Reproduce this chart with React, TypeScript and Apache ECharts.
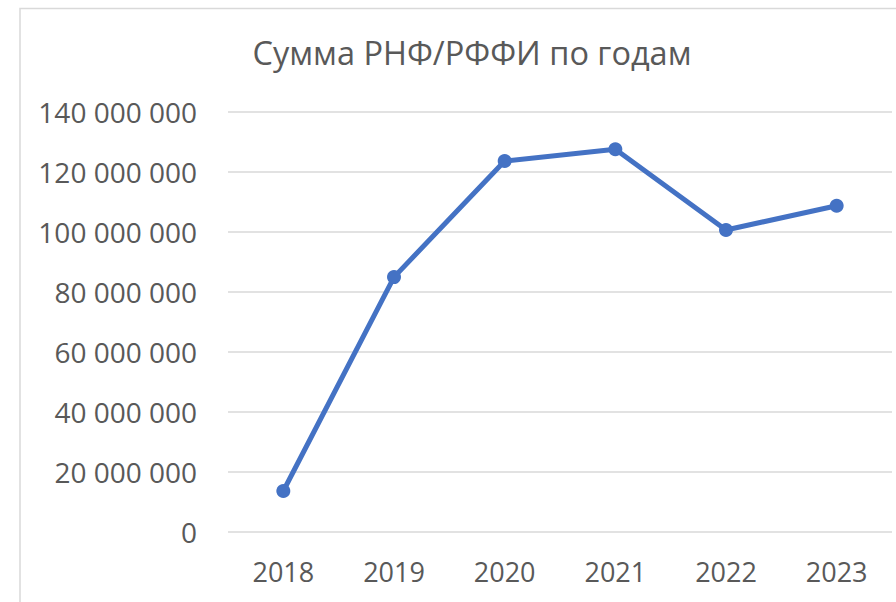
import React, { useEffect, useRef } from "react";
import * as echarts from "echarts";

const years = ["2018", "2019", "2020", "2021", "2022", "2023"];
const sums = [13500000, 84800000, 123500000, 127400000, 100500000, 108600000];
const yMin = 0;
const yMax = 140000000;
const yStep = 20000000;
const titleText = "Сумма РНФ/РФФИ по годам";

const fmt = (v: number) => String(Math.round(v)).replace(/\B(?=(\d{3})+(?!\d))/g, " ");

export default function App() {
  const ref = useRef<HTMLDivElement>(null);
  useEffect(() => {
    document.body.style.margin = "0";
    const chart = echarts.init(ref.current!, undefined, { renderer: "svg" });
    const font = "'Open Sans', sans-serif";
    chart.setOption({
      animation: false,
      backgroundColor: "#ffffff",
      textStyle: { fontFamily: font },
      title: {
        text: titleText,
        left: 467,
        top: 31,
        textAlign: "center",
        textStyle: { fontFamily: font, fontSize: 32.5, fontWeight: "normal", color: "#595959" },
      },
      graphic: [
        {
          type: "rect",
          shape: { x: 20, y: 8.5, width: 900, height: 620 },
          style: { fill: "none", stroke: "#d9d9d9", lineWidth: 1.5 },
          silent: true,
        },
      ],
      grid: { left: 228, right: 4, top: 111.5, bottom: 70.5, containLabel: false },
      xAxis: {
        type: "category",
        data: years,
        boundaryGap: true,
        axisLine: { show: false },
        axisTick: { show: false },
        axisLabel: { color: "#595959", fontSize: 27, fontFamily: font, margin: 26 },
      },
      yAxis: {
        type: "value",
        min: yMin,
        max: yMax,
        interval: yStep,
        axisLine: { show: false },
        axisTick: { show: false },
        splitLine: { lineStyle: { color: "#d9d9d9", width: 1.5 } },
        axisLabel: { color: "#595959", fontSize: 28, fontFamily: font, margin: 31, formatter: (v: number) => fmt(v) },
      },
      series: [
        {
          type: "line",
          data: sums,
          symbol: "circle",
          symbolSize: 14,
          lineStyle: { color: "#4472C4", width: 5 },
          itemStyle: { color: "#4472C4" },
        },
      ],
    });
    return () => chart.dispose();
  }, []);
  return <div ref={ref} style={{ position: "fixed", left: 0, top: 0, width: 896, height: 602 }} />;
}
